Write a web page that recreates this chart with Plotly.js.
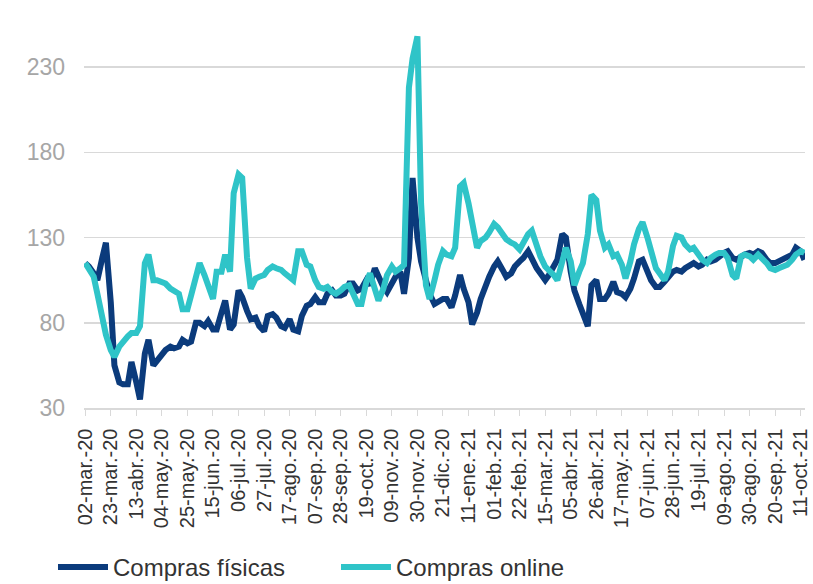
<!DOCTYPE html>
<html>
<head>
<meta charset="utf-8">
<script src="https://cdn.plot.ly/plotly-3.0.1.min.js"></script>
<style>
html,body{margin:0;padding:0;background:#fff;}
#chart{width:813px;height:584px;}
</style>
</head>
<body>
<div id="chart"></div>
<script>
// Sample dates (Mondays and Thursdays)
const dates = [
"2020-03-02","2020-03-05","2020-03-09","2020-03-12","2020-03-16","2020-03-19","2020-03-23","2020-03-26","2020-03-30","2020-04-02",
"2020-04-06","2020-04-09","2020-04-13","2020-04-16","2020-04-20","2020-04-23","2020-04-27","2020-04-30","2020-05-04","2020-05-07",
"2020-05-11","2020-05-14","2020-05-18","2020-05-21","2020-05-25","2020-05-28","2020-06-01","2020-06-04","2020-06-08","2020-06-11",
"2020-06-15","2020-06-18","2020-06-22","2020-06-25","2020-06-29","2020-07-02","2020-07-06","2020-07-09","2020-07-13","2020-07-16",
"2020-07-20","2020-07-23","2020-07-27","2020-07-30","2020-08-03","2020-08-06","2020-08-10","2020-08-13","2020-08-17","2020-08-20",
"2020-08-24","2020-08-27","2020-08-31","2020-09-03","2020-09-07","2020-09-10","2020-09-14","2020-09-17","2020-09-21","2020-09-24",
"2020-09-28","2020-10-01","2020-10-05","2020-10-08","2020-10-12","2020-10-15","2020-10-19","2020-10-22","2020-10-26","2020-10-29",
"2020-11-02","2020-11-05","2020-11-09","2020-11-12","2020-11-16","2020-11-19","2020-11-23","2020-11-26","2020-11-30","2020-12-03",
"2020-12-07","2020-12-10","2020-12-14","2020-12-17","2020-12-21","2020-12-24","2020-12-28","2020-12-31","2021-01-04","2021-01-07",
"2021-01-11","2021-01-14","2021-01-18","2021-01-21","2021-01-25","2021-01-28","2021-02-01","2021-02-04","2021-02-08","2021-02-11",
"2021-02-15","2021-02-18","2021-02-22","2021-02-25","2021-03-01","2021-03-04","2021-03-08","2021-03-11","2021-03-15","2021-03-18",
"2021-03-22","2021-03-25","2021-03-29","2021-04-01","2021-04-05","2021-04-08","2021-04-12","2021-04-15","2021-04-19","2021-04-22",
"2021-04-26","2021-04-29","2021-05-03","2021-05-06","2021-05-10","2021-05-13","2021-05-17","2021-05-20","2021-05-24","2021-05-27",
"2021-05-31","2021-06-03","2021-06-07","2021-06-10","2021-06-14","2021-06-17","2021-06-21","2021-06-24","2021-06-28","2021-07-01",
"2021-07-05","2021-07-08","2021-07-12","2021-07-15","2021-07-19","2021-07-22","2021-07-26","2021-07-29","2021-08-02","2021-08-05",
"2021-08-09","2021-08-12","2021-08-16","2021-08-19","2021-08-23","2021-08-26","2021-08-30","2021-09-02","2021-09-06","2021-09-09",
"2021-09-13","2021-09-16","2021-09-20","2021-09-23","2021-09-27","2021-09-30","2021-10-04","2021-10-07","2021-10-11","2021-10-14"
];

const comprasFisicas = [
115,113, 109,105, 118,127, 92,55, 45,44, 44,57, 45,35, 62,70, 55,58, 62,64,
66,65, 66,70, 68,69, 80,80, 78,81, 76,76, 86,93, 76,79, 99,95, 87,82,
83,78, 75,84, 85,83, 78,77, 82,76, 75,84, 90,91, 95,92, 92,97, 99,96,
96,97, 103,103, 99,100, 105,102, 112,107, 101,98, 104,107, 110,97, 118,165, 130,116,
105,97, 91,92, 94,94, 89,96, 108,100, 92,79, 86,94, 103,107, 113,116, 111,107,
109,113, 116,118, 122,117, 112,109, 105,108, 114,117, 132,130, 110,99, 91,85, 78,102,
105,94, 94,97, 104,98, 97,95, 100,106, 116,117, 110,105, 101,101, 104,107, 110,111,
110,112, 114,115, 113,114, 117,116, 117,119, 121,122, 118,117, 119,120, 121,120, 122,121,
117,115, 115,116, 117,118, 120,124, 122,117
];

const comprasOnline = [
115,111, 107,97, 82,73, 64,60, 66,69, 72,74, 74,78, 115,120, 105,105, 104,103,
100,99, 97,88, 88,96, 107,115, 108,101, 94,110, 110,120, 110,156, 167,165, 118,100,
106,107, 108,111, 113,112, 111,109, 106,105, 122,122, 114,113, 105,101, 100,101, 98,97,
99,101, 102,98, 91,91, 104,109, 100,93, 100,108, 113,110, 112,114, 218,235, 248,150,
102,94, 105,114, 122,120, 119,124, 160,162, 150,137, 124,128, 130,133, 138,136, 131,129,
127,126, 123,127, 132,134, 124,119, 113,111, 108,105, 117,124, 116,102, 110,115, 132,155,
152,134, 124,126, 119,120, 114,106, 116,126, 135,139, 130,122, 112,109, 105,110, 125,131,
130,126, 123,124, 120,117, 115,118, 120,121, 121,118, 108,106, 119,120, 119,117, 120,118,
115,112, 111,112, 113,114, 117,120, 122,121
];

const tickDates = [
"2020-03-02","2020-03-23","2020-04-13","2020-05-04","2020-05-25","2020-06-15","2020-07-06","2020-07-27",
"2020-08-17","2020-09-07","2020-09-28","2020-10-19","2020-11-09","2020-11-30","2020-12-21","2021-01-11",
"2021-02-01","2021-02-22","2021-03-15","2021-04-05","2021-04-26","2021-05-17","2021-06-07","2021-06-28",
"2021-07-19","2021-08-09","2021-08-30","2021-09-20","2021-10-11"
];
const tickLabels = [
"02-mar.-20","23-mar.-20","13-abr.-20","04-may.-20","25-may.-20","15-jun.-20","06-jul.-20","27-jul.-20",
"17-ago.-20","07-sep.-20","28-sep.-20","19-oct.-20","09-nov.-20","30-nov.-20","21-dic.-20","11-ene.-21",
"01-feb.-21","22-feb.-21","15-mar.-21","05-abr.-21","26-abr.-21","17-may.-21","07-jun.-21","28-jun.-21",
"19-jul.-21","09-ago.-21","30-ago.-21","20-sep.-21","11-oct.-21"
];
const yTicks = [30, 80, 130, 180, 230];
const seriesNames = ["Compras físicas", "Compras online"];

const FONT = "Arial, 'Liberation Sans', sans-serif";

const traces = [
  {x: dates, y: comprasFisicas, name: seriesNames[0], type: "scatter", mode: "lines",
   line: {color: "#0b3b7c", width: 6}},
  {x: dates, y: comprasOnline, name: seriesNames[1], type: "scatter", mode: "lines",
   line: {color: "#2fc4c8", width: 6}}
];

const layout = {
  width: 813, height: 584,
  margin: {l: 84, r: 8, t: 33, b: 176, autoexpand: false},
  paper_bgcolor: "#ffffff", plot_bgcolor: "#ffffff",
  font: {family: FONT},
  showlegend: true,
  legend: {orientation: "h", x: -0.043, xanchor: "left", y: -0.425, yanchor: "middle",
           font: {size: 24, color: "#333333", family: FONT}, traceorder: "normal",
           entrywidth: 218, entrywidthmode: "pixels", itemwidth: 50},
  xaxis: {
    type: "date", automargin: false,
    range: ["2020-03-01", "2021-10-14 12:00"],
    tickmode: "array", tickvals: tickDates, ticktext: tickLabels,
    tickangle: -90, tickfont: {size: 20, color: "#333333", family: FONT},
    ticks: "outside", ticklen: 6, tickcolor: "#d9d9d9", tickwidth: 1,
    ticklabelstandoff: 5,
    showline: true, linecolor: "#d9d9d9", linewidth: 1.5,
    showgrid: false, zeroline: false
  },
  yaxis: {
    range: [30, 250], automargin: false,
    tickmode: "array", tickvals: yTicks,
    tickfont: {size: 23, color: "#a6a6a6", family: FONT},
    ticklabelstandoff: 18,
    showgrid: true, gridcolor: "#d9d9d9", gridwidth: 1.5,
    showline: false, zeroline: false, ticks: ""
  }
};

Plotly.newPlot("chart", traces, layout, {displayModeBar: false, staticPlot: true});
</script>
</body>
</html>
